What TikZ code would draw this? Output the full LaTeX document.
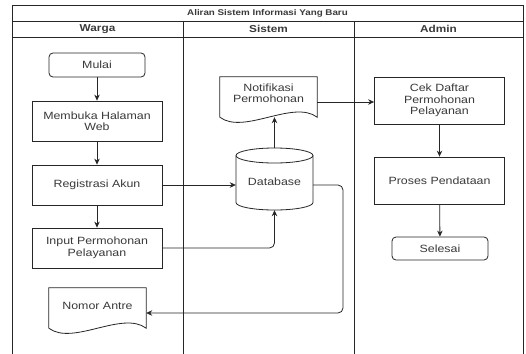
\documentclass[tikz,border=0pt]{standalone}
\usepackage{fontspec}
\setmainfont{Liberation Sans}[FakeStretch=1.18]
\usetikzlibrary{arrows.meta}
\definecolor{linec}{HTML}{262626}
\definecolor{txtc}{HTML}{3A3A3A}
\begin{document}
\begin{tikzpicture}[x=1pt,y=-1pt,
  ln/.style={draw=linec,line width=0.8pt},
  box/.style={ln,fill=white,text=txtc,align=center,font=\fontsize{10.5}{11.5}\selectfont,
    minimum width=130pt,minimum height=40pt,inner sep=1pt},
  term/.style={box,rounded corners=4pt,minimum width=96pt,minimum height=24pt},
  doctext/.style={text=txtc,align=center,font=\fontsize{10.5}{11.5}\selectfont,
    minimum width=97pt,inner sep=1pt},
  arr/.style={ln,-{Stealth[length=6pt,width=5.5pt]}},
  hdr/.style={text=txtc,font=\bfseries\fontsize{10}{11}\selectfont},
]
\useasboundingbox (0,0) rectangle (526,353);
\fill[white] (0,0) rectangle (526,353);
% pool and lanes
\draw[ln] (12,5) -- (523,5);
\draw[ln] (12,5) -- (12,360);
\draw[ln] (523,5) -- (523,360);
\draw[ln] (12,21) -- (523,21);
\draw[ln] (12,37) -- (523,37);
\draw[ln] (183,21) -- (183,360);
\draw[ln] (354,21) -- (354,360);
\node[text=txtc,font=\bfseries\fontsize{8.3}{9}\selectfont] (title) at (267.5,13) {Aliran Sistem Informasi Yang Baru};
\node[hdr] (hwarga) at (97.5,29) {Warga};
\node[hdr] (hsistem) at (268.5,29) {Sistem};
\node[hdr] (hadmin) at (438.5,29) {Admin};
% Warga lane
\node[term] (mulai) at (97,65) {Mulai};
\node[box] (web) at (97,121) {Membuka Halaman\\Web};
\node[box] (reg) at (97,185) {Registrasi Akun};
\node[box] (inp) at (97,248) {Input Permohonan\\Pelayanan};
\node[doctext,minimum height=36pt] (nomor) at (97.5,306) {Nomor Antre};
\draw[ln] ([yshift=-4pt]nomor.south west) -- (nomor.north west) -- (nomor.north east)
  -- ([yshift=-4pt]nomor.south east) .. controls +(-24,-18) and +(24,18) .. ([yshift=-4pt]nomor.south west);
% Sistem lane
\node[doctext,minimum height=32pt] (notif) at (268.5,93) {Notifikasi\\Permohonan};
\draw[ln] ([yshift=-8pt]notif.south west) -- (notif.north west) -- (notif.north east)
  -- ([yshift=-8pt]notif.south east) .. controls +(-24,-18) and +(24,18) .. ([yshift=-8pt]notif.south west);
\coordinate (notifb) at ([yshift=-8pt]notif.south);
\node[minimum width=77pt,minimum height=62pt,inner sep=0pt,text=txtc,font=\fontsize{10.5}{11.5}\selectfont] (db) at (274.5,179) {};
\filldraw[ln,fill=white] (236,155.5) -- (236,202.5) arc[start angle=180,end angle=360,x radius=38.5pt,y radius=7.5pt] -- (313,155.5);
\draw[ln] (274.5,155.5) ellipse [x radius=38.5pt,y radius=7.5pt];
\node[text=txtc,font=\fontsize{10.5}{11.5}\selectfont] (dbtext) at (274.5,182) {Database};
% Admin lane
\node[box,minimum height=47pt] (cek) at (439.5,100.5) {Cek Daftar\\Permohonan\\Pelayanan};
\node[box,minimum height=47pt] (proses) at (439.5,180.5) {Proses Pendataan};
\node[term,minimum height=23pt] (selesai) at (440,248.5) {Selesai};
% connectors
\draw[arr] (mulai) -- (web);
\draw[arr] (web) -- (reg);
\draw[arr] (reg) -- (inp);
\draw[arr] (reg.east) -- (reg.east -| db.west);
\draw[arr,rounded corners=5pt] (inp.east) -| (db.south);
\draw[arr] (db.north) -- (db.north |- notifb);
\draw[arr] ([yshift=-9pt]notif.east) -- ([yshift=-9pt]notif.east -| cek.west);
\draw[arr] (cek) -- (proses);
\draw[arr] (proses) -- (selesai);
\coordinate (nomin) at ([yshift=-7pt]nomor.east);
\coordinate (dbturn) at (343,0);
\draw[arr,rounded corners=5pt] (reg.east -| db.east) -| (dbturn |- nomin) -- (nomin);
\end{tikzpicture}
\end{document}
